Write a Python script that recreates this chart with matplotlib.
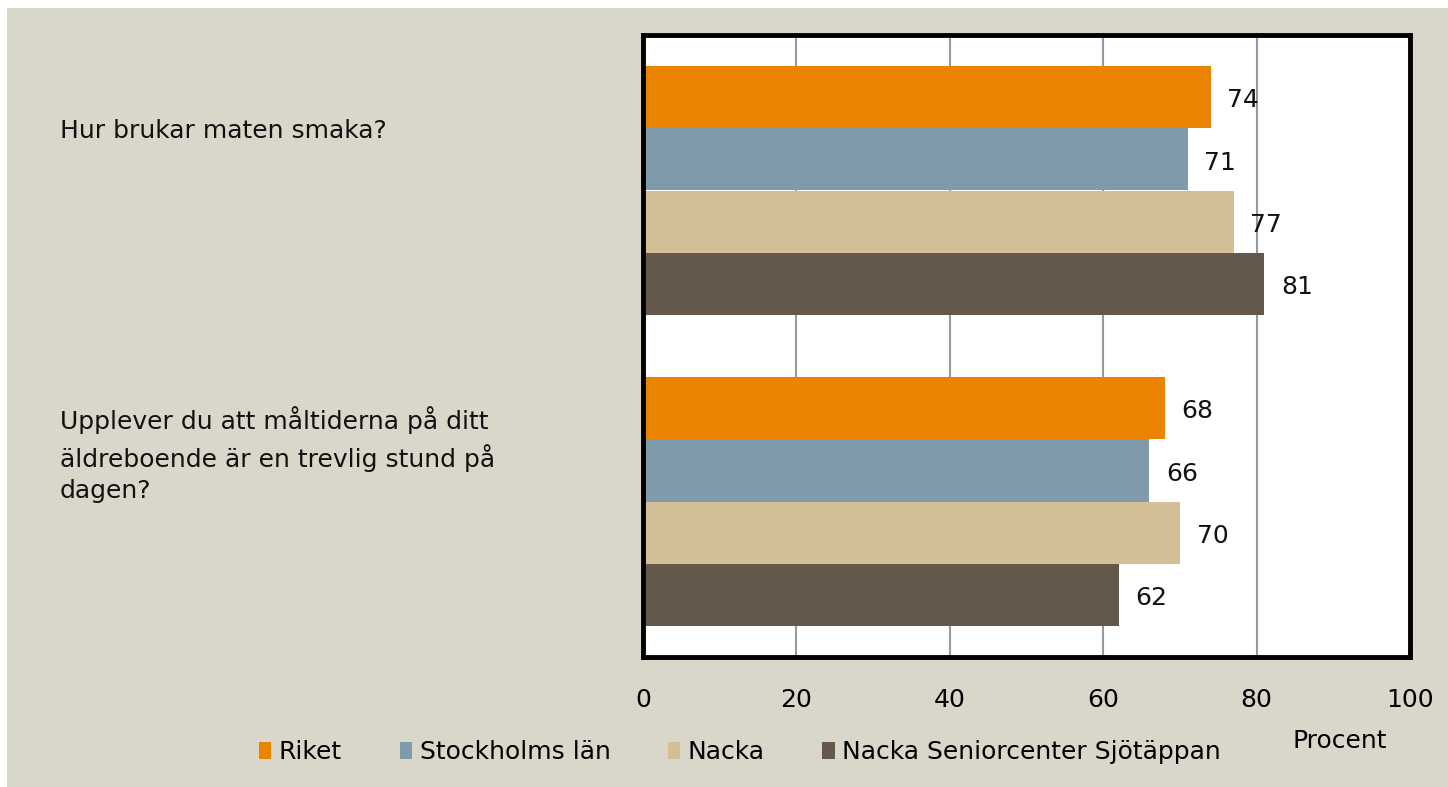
import matplotlib.pyplot as plt
import numpy as np
from matplotlib.patches import Patch, Rectangle
from matplotlib.transforms import blended_transform_factory

questions = [
    "Hur brukar maten smaka?",
    "Upplever du att måltiderna på ditt\näldreboende är en trevlig stund på\ndagen?",
]
series = ["Riket", "Stockholms län", "Nacka", "Nacka Seniorcenter Sjötäppan"]
values = {
    "Riket": [74, 68],
    "Stockholms län": [71, 66],
    "Nacka": [77, 70],
    "Nacka Seniorcenter Sjötäppan": [81, 62],
}
xticks = [0, 20, 40, 60, 80, 100]
colors = ["#E98300", "#7F9AAB", "#D3BF95", "#64574C"]
bg = "#D9D7CA"

plt.rcParams['font.family'] = ['DejaVu Sans']
fs = 18

W, H = 1448, 787
fig = plt.figure(figsize=(W / 100, H / 100), dpi=100, facecolor="white")
fig.patches.append(Rectangle((7 / W, 0), 1, 1 - 8 / H, transform=fig.transFigure,
                             facecolor=bg, edgecolor="none", zorder=-10))

ax = fig.add_axes([643 / W, 1 - 657 / H, 767 / W, 622 / H])
ax.set_facecolor("white")

bar_h = 0.2
y = np.arange(len(questions))
for i, name in enumerate(series):
    pos = y - 0.3 + i * bar_h
    ax.barh(pos, values[name], height=bar_h, color=colors[i], zorder=3, label=name)
    for p, v in zip(pos, values[name]):
        ax.text(v + 2.2, p + 0.01, str(v), va="center", ha="left", fontsize=fs,
                color="#111111", zorder=4)

ax.set_xlim(0, 100)
ax.set_ylim(1.5, -0.5)
ax.set_xticks(xticks)
ax.set_xticklabels([str(t) for t in xticks], fontsize=fs)
ax.tick_params(axis="x", length=0, pad=22)
ax.set_yticks([])
ax.grid(axis="x", color="#999999", linewidth=1.5, zorder=1)
for s in ax.spines.values():
    s.set_linewidth(3.5)
    s.set_color("black")
    s.set_zorder(5)

# kategorietiketter till vänster
tr = blended_transform_factory(fig.transFigure, ax.transData)
label_off = [-0.19, -0.15]
for q, yc, off in zip(questions, y, label_off):
    ax.text(60 / W, yc + off, q, transform=tr, ha="left", va="center", fontsize=fs,
            linespacing=1.4, color="#111111")

fig.text(1340 / W, 1 - 741 / H, "Procent", ha="center", va="center", fontsize=fs)

handles = [Patch(facecolor=c, edgecolor="none") for c in colors]
fig.legend(handles, series, loc="center", bbox_to_anchor=(740 / W, 1 - 752 / H),
           ncol=4, frameon=False, fontsize=fs, handlelength=0.5, handleheight=0.7,
           handletextpad=0.3, columnspacing=2.3)

fig.savefig("out.png", dpi=100, facecolor=fig.get_facecolor())
